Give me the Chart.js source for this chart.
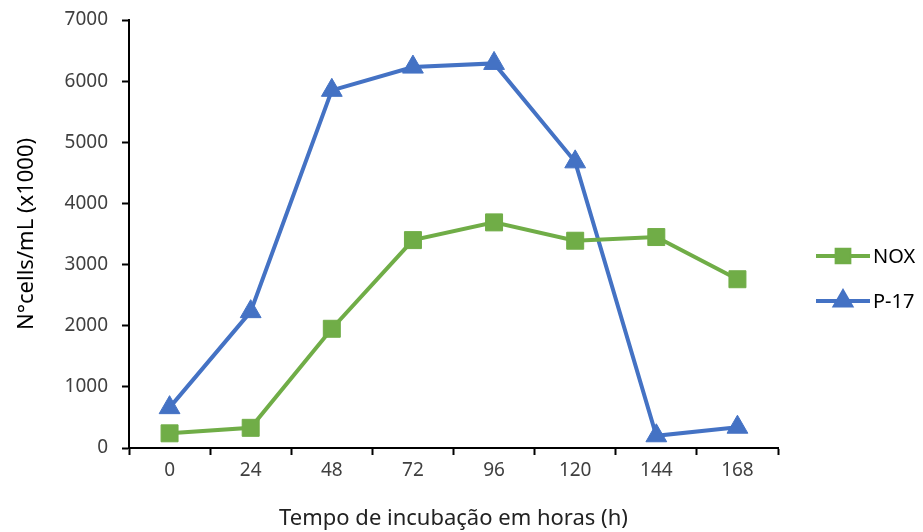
<!DOCTYPE html>
<html>
<head>
<meta charset="utf-8">
<script src="https://cdn.jsdelivr.net/npm/chart.js@4/dist/chart.umd.min.js"></script>
<style>
  html, body { margin: 0; padding: 0; background: #fff; }
  #wrap { width: 923px; height: 532px; }
</style>
</head>
<body>
<div id="wrap"><canvas id="chart" width="923" height="532"></canvas></div>
<script>
    "use strict";

    // Hours of incubation
    const horas = ["0", "24", "48", "72", "96", "120", "144", "168"];
    // Cell counts (x1000 cells/mL)
    const nox = [240, 330, 1950, 3400, 3690, 3390, 3450, 2760];
    const p17 = [660, 2230, 5850, 6230, 6290, 4680, 200, 340];
    const yTicks = [0, 1000, 2000, 3000, 4000, 5000, 6000, 7000];

    const fontFamily = "'Noto Sans', 'Open Sans', sans-serif";
    const textColor = "#404040";

    // Legend drawn to the right: short line with the marker in the middle
    const sideLegend = {
        id: "sideLegend",
        afterDraw: function (chart) {
            const ctx = chart.ctx;
            const rows = [256, 301];
            chart.data.datasets.forEach(function (ds, i) {
                const y = rows[i];
                const x0 = 816, x1 = 870;
                ctx.save();
                ctx.strokeStyle = ds.borderColor;
                ctx.lineWidth = ds.borderWidth;
                ctx.beginPath();
                ctx.moveTo(x0, y);
                ctx.lineTo(x1, y);
                ctx.stroke();
                Chart.helpers.drawPoint(ctx, {
                    pointStyle: ds.pointStyle,
                    radius: ds.pointRadius * 0.75,
                    borderWidth: 1
                }, (x0 + x1) / 2, y);
                ctx.fillStyle = ds.borderColor;
                ctx.fill();
                ctx.fillStyle = "#000";
                ctx.font = "20px " + fontFamily;
                ctx.textAlign = "left";
                ctx.textBaseline = "middle";
                ctx.fillText(ds.label, x1 + 3, y + 1);
                ctx.restore();
            });
        }
    };

    const ctx = document.getElementById("chart").getContext("2d");
    const chart = new Chart(ctx, {
        type: "line",
        data: {
            labels: horas,
            datasets: [
                {
                    label: "NOX",
                    data: nox,
                    borderColor: "#70AD47",
                    backgroundColor: "#70AD47",
                    borderWidth: 4,
                    pointStyle: "rect",
                    pointRadius: 12,
                    pointBorderWidth: 1,
                    tension: 0
                },
                {
                    label: "P-17",
                    data: p17,
                    borderColor: "#4472C4",
                    backgroundColor: "#4472C4",
                    borderWidth: 4,
                    pointStyle: "triangle",
                    pointRadius: 12,
                    pointBorderWidth: 1,
                    tension: 0
                }
            ]
        },
        options: {
            responsive: false,
            animation: false,
            layout: {
                padding: { top: 20, right: 145, left: 14, bottom: 0 }
            },
            plugins: {
                legend: { display: false },
                tooltip: { enabled: false }
            },
            scales: {
                x: {
                    offset: true,
                    grid: {
                        offset: true,
                        drawOnChartArea: false,
                        drawTicks: true,
                        tickLength: 7,
                        tickWidth: 2,
                        color: "#000"
                    },
                    border: { color: "#000", width: 2 },
                    ticks: {
                        color: textColor,
                        font: { family: fontFamily, size: 19 },
                        padding: 4
                    },
                    title: {
                        display: true,
                        text: "Tempo de incubação em horas (h)",
                        color: "#222",
                        font: { family: fontFamily, size: 22 },
                        padding: { top: 6, bottom: 0 }
                    },
                    afterFit: function (scale) { scale.height = 84; }
                },
                y: {
                    min: 0,
                    max: 7000,
                    afterBuildTicks: function (scale) {
                        scale.ticks = yTicks.map(function (v) { return { value: v }; });
                    },
                    grid: {
                        drawOnChartArea: false,
                        drawTicks: true,
                        tickLength: 7,
                        tickWidth: 2,
                        color: "#000"
                    },
                    border: { color: "#000", width: 2 },
                    ticks: {
                        color: textColor,
                        font: { family: fontFamily, size: 19 },
                        padding: 14,
                        callback: function (value) { return String(value); }
                    },
                    title: {
                        display: true,
                        text: "N°cells/mL (x1000)",
                        color: "#000",
                        font: { family: fontFamily, size: 22 },
                        padding: { top: 0, bottom: 8 }
                    },
                    afterFit: function (scale) {
                        scale.width = 115;
                        scale.paddingTop = 0;
                        scale.paddingBottom = 0;
                    }
                }
            }
        },
        plugins: [sideLegend]
    });
</script>
</body>
</html>
